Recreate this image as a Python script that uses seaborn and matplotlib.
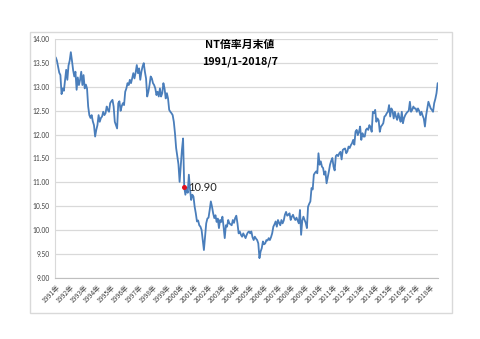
import numpy as np
import pandas as pd
import matplotlib
matplotlib.use("Agg")
import matplotlib.pyplot as plt
import seaborn as sns
from matplotlib.patches import Rectangle

# ---- data: NT ratio month-end values, 1991/1 - 2018/7 ----
y1991 = [13.62, 13.55, 13.43, 13.30, 13.25, 12.85, 12.97, 12.92, 13.15, 13.36, 13.15, 13.45]
y1992 = [13.55, 13.73, 13.55, 13.35, 13.22, 13.32, 12.94, 13.20, 13.04, 13.15, 13.32, 13.04]
y1993 = [13.25, 12.97, 13.05, 12.97, 12.59, 12.41, 12.35, 12.41, 12.28, 12.20, 11.96, 12.10]
y1994 = [12.20, 12.41, 12.27, 12.35, 12.38, 12.48, 12.41, 12.45, 12.59, 12.52, 12.48, 12.66]
y1995 = [12.70, 12.73, 12.59, 12.27, 12.20, 12.13, 12.66, 12.70, 12.50, 12.60, 12.66, 12.62]
y1996 = [12.90, 12.97, 13.08, 13.04, 13.15, 13.08, 13.18, 13.29, 13.18, 13.30, 13.46, 13.29]
y1997 = [13.39, 13.15, 13.32, 13.43, 13.50, 13.32, 13.18, 12.80, 12.90, 13.04, 13.22, 13.18]
y1998 = [13.08, 13.04, 12.97, 12.83, 12.90, 12.80, 12.97, 12.80, 12.87, 13.08, 12.97, 12.76]
y1999 = [12.87, 12.76, 12.52, 12.48, 12.45, 12.41, 12.27, 12.03, 11.72, 11.55, 11.38, 11.01]
y2000 = [11.33, 11.68, 11.92, 10.90, 10.74, 10.88, 10.78, 11.16, 10.85, 10.63, 10.74, 10.70]
y2001 = [10.49, 10.35, 10.18, 10.20, 10.10, 10.07, 10.00, 9.79, 9.58, 9.86, 10.14, 10.24]
y2002 = [10.26, 10.42, 10.60, 10.49, 10.35, 10.25, 10.31, 10.17, 10.24, 10.04, 10.21, 10.17]
y2003 = [10.28, 10.07, 9.83, 10.10, 10.07, 10.21, 10.14, 10.12, 10.10, 10.21, 10.15, 10.25]
y2004 = [10.30, 10.14, 9.93, 9.97, 9.90, 9.86, 9.93, 9.88, 9.83, 9.90, 9.95, 9.97]
y2005 = [9.93, 9.97, 9.85, 9.79, 9.86, 9.82, 9.79, 9.72, 9.41, 9.55, 9.62, 9.76]
y2006 = [9.70, 9.72, 9.79, 9.78, 9.83, 9.79, 9.85, 9.93, 10.07, 10.12, 10.18, 10.07]
y2007 = [10.21, 10.15, 10.10, 10.21, 10.14, 10.20, 10.32, 10.38, 10.30, 10.32, 10.35, 10.21]
y2008 = [10.28, 10.32, 10.25, 10.21, 10.26, 10.20, 10.14, 10.42, 9.90, 10.20, 10.28, 10.21]
y2009 = [10.15, 10.04, 10.49, 10.55, 10.60, 10.88, 10.85, 11.16, 11.20, 11.23, 11.19, 11.61]
y2010 = [11.37, 11.44, 11.33, 11.30, 11.16, 11.23, 10.98, 11.10, 11.23, 11.37, 11.45, 11.51]
y2011 = [11.33, 11.25, 11.55, 11.58, 11.55, 11.61, 11.64, 11.48, 11.68, 11.70, 11.71, 11.61]
y2012 = [11.65, 11.75, 11.72, 11.78, 11.82, 11.89, 11.79, 12.06, 12.10, 11.99, 12.06, 12.17]
y2013 = [11.89, 12.03, 11.96, 11.96, 12.10, 12.13, 12.10, 12.20, 12.15, 12.06, 12.48, 12.45]
y2014 = [12.52, 12.27, 12.34, 12.30, 12.06, 12.17, 12.20, 12.24, 12.38, 12.40, 12.45, 12.48]
y2015 = [12.62, 12.38, 12.55, 12.50, 12.34, 12.48, 12.38, 12.31, 12.45, 12.35, 12.27, 12.48]
y2016 = [12.24, 12.35, 12.41, 12.45, 12.48, 12.50, 12.69, 12.48, 12.52, 12.59, 12.55, 12.55]
y2017 = [12.48, 12.55, 12.50, 12.41, 12.48, 12.40, 12.34, 12.17, 12.40, 12.55, 12.69, 12.62]
y2018 = [12.55, 12.52, 12.48, 12.66, 12.75, 12.87, 13.08]

year_labels = [f"{y}年" for y in range(1991, 2019)]
y_ticks = [9.0, 9.5, 10.0, 10.5, 11.0, 11.5, 12.0, 12.5, 13.0, 13.5, 14.0]
highlight_index = 111          # 2000/4
highlight_label = "10.90"
title_lines = ["NT倍率月末値", "1991/1-2018/7"]

values = (y1991 + y1992 + y1993 + y1994 + y1995 + y1996 + y1997 + y1998 + y1999 +
          y2000 + y2001 + y2002 + y2003 + y2004 + y2005 + y2006 + y2007 + y2008 +
          y2009 + y2010 + y2011 + y2012 + y2013 + y2014 + y2015 + y2016 + y2017 + y2018)
df = pd.DataFrame({"idx": np.arange(len(values)), "nt": values})

# ---- style ----
sns.set_theme(style="white")
cjk = ["Noto Sans CJK JP", "DejaVu Sans"]
plt.rcParams["font.family"] = cjk

fig = plt.figure(figsize=(4.8, 3.39), dpi=100)
fig.patch.set_facecolor("white")

# chart-area border
fig.patches.append(Rectangle((0.0615, 0.077), 0.8795, 0.8295, transform=fig.transFigure,
                             fill=False, edgecolor="#D9D9D9", linewidth=1.0))

ax = fig.add_axes([0.115, 0.1808, 0.798, 0.7033])
ax.set_facecolor("white")

sns.lineplot(data=df, x="idx", y="nt", ax=ax, color="#4A7EBB", linewidth=1.3)

# highlight point
hx = df["idx"].iloc[highlight_index]
hy = df["nt"].iloc[highlight_index]
ax.scatter([hx], [hy], s=13, color="#E0101F", zorder=5, linewidths=0)
ax.annotate(highlight_label, (hx, hy), xytext=(3, 0), textcoords="offset points",
            ha="left", va="center", fontsize=8, color="#222222", family=["Lato", "DejaVu Sans"])

ax.set_xlim(-0.5, len(values) - 0.5)
ax.set_ylim(9.0, 14.0)
ax.set_yticks(y_ticks)
ax.set_yticklabels([f"{v:.2f}" for v in y_ticks], fontsize=4.8, color="#404040",
                   family=["Lato", "DejaVu Sans"])
ax.set_xticks(np.arange(len(year_labels)) * 12)
ax.set_xticklabels(year_labels, rotation=45, ha="right", va="top", rotation_mode="anchor",
                   fontsize=4.9, color="#404040")
ax.tick_params(axis="y", length=0, pad=4)
ax.tick_params(axis="x", length=2.5, width=0.6, color="#BFBFBF", pad=1.5, direction="out")
ax.grid(axis="y", color="#D9D9D9", linewidth=0.9)
ax.grid(axis="x", visible=False)
ax.set_axisbelow(True)
for s in ["top", "right"]:
    ax.spines[s].set_visible(False)
ax.spines["left"].set_color("#D9D9D9")
ax.spines["left"].set_linewidth(0.8)
ax.spines["bottom"].set_color("#BFBFBF")
ax.spines["bottom"].set_linewidth(0.8)
ax.set_xlabel("")
ax.set_ylabel("")

fig.text(0.5, 1 - 45 / 339, title_lines[0], ha="center", va="center",
         fontsize=7.8, fontweight="bold", color="black")
fig.text(0.5, 1 - 61.7 / 339, title_lines[1], ha="center", va="center",
         fontsize=7.8, fontweight="bold", color="black")

fig.savefig("out.png", dpi=100, facecolor="white")
